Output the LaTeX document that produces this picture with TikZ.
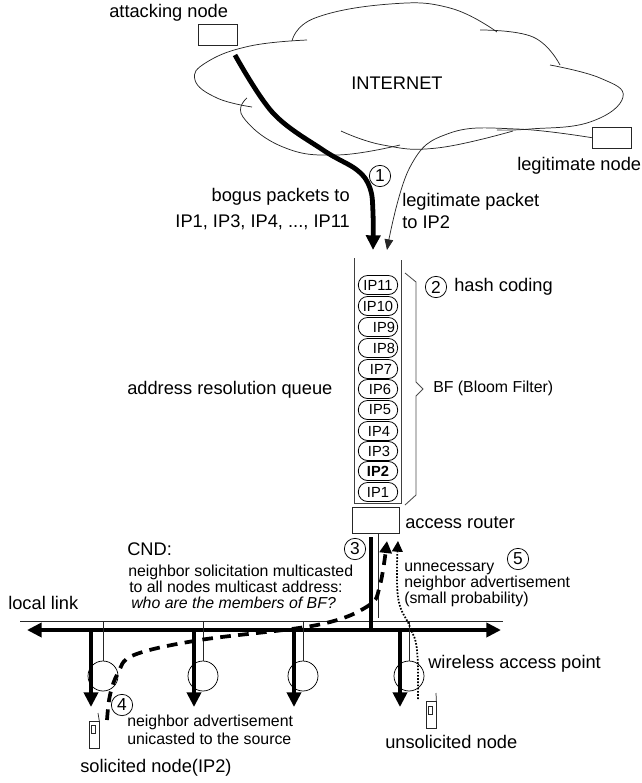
\documentclass[tikz,border=0pt]{standalone}
\usepackage{fontspec}
\setmainfont{Liberation Sans}
\usetikzlibrary{arrows.meta}
\tikzset{
 x=0.75pt,y=-0.75pt,
 thin line/.style={line width=0.55pt,black!85},
 box/.style={draw,line width=0.55pt,black!85,minimum width=29pt,minimum height=15.5pt,inner sep=0pt,anchor=north west},
 lab/.style={font=\fontsize{13.7}{15}\selectfont,inner sep=0pt,align=left,anchor=west},
 small/.style={font=\fontsize{11.9}{13}\selectfont,inner sep=0pt,align=left,anchor=west},
 num/.style={draw,circle,line width=0.55pt,minimum size=16pt,inner sep=0pt,font=\fontsize{13}{14}\selectfont},
 ipn/.style={draw,rounded corners=7pt,line width=0.6pt,minimum width=29.5pt,minimum height=14.3pt,inner sep=0pt,font=\fontsize{11}{12}\selectfont},
 hub/.style={draw,circle,line width=0.55pt,minimum size=22.5pt,inner sep=0pt},
 heavy/.style={line width=3.6pt,-{Triangle[length=11pt,width=10.5pt]}},
 heavydash/.style={line width=2.8pt,dash pattern=on 8pt off 5.5pt,-{Triangle[length=9pt,width=9pt]}},
 dots/.style={line width=1.3pt,dash pattern=on 1.2pt off 1.2pt,-{Triangle[length=8pt,width=8pt]}},
}
\begin{document}
\begin{tikzpicture}
\useasboundingbox (0,0) rectangle (642,783);
% cloud
\draw[thin line] plot[smooth,tension=0.75] coordinates {(307,40) (250,46) (207,62) (195,80) (217,98) (252,107)};
\draw[thin line] plot[smooth,tension=0.75] coordinates {(247,98) (243,117) (283,147) (337,155) (400,145)};
\draw[thin line] plot[smooth,tension=0.75] coordinates {(341,131) (383,145) (437,148) (513,131)};
\draw[thin line] plot[smooth,tension=0.75] coordinates {(550,65) (600,78) (623,97) (590,122) (530,129) (497,130)};
\draw[thin line] plot[smooth,tension=0.75] coordinates {(480,30) (533,37) (560,65)};
\draw[thin line] plot[smooth,tension=0.75] coordinates {(292,41) (315,18) (390,4) (450,8) (497,32)};
\node[lab] (inet) at (351,83) {INTERNET};
% end nodes
\node[box] (attack) at (198,24) {};
\node[box] (legit) at (592,127) {};
\node[lab] (attackl) at (109,13) {attacking node};
\node[lab] (legitl) at (517,166) {legitimate node};
% traffic
\coordinate (bogus) at (235,55);
\coordinate (qin) at (373,250);
\coordinate (qin2) at (387,250);
\draw[heavy] plot[smooth,tension=0.6] coordinates {(bogus) (273,113) (323,150) (357,170) (370,188) (373,213) (qin)};
\draw[thin line,-{Triangle[length=8pt,width=6.5pt]}] plot[smooth,tension=0.7] coordinates {(legit.west) (517,129) (450,133) (410,167) (qin2)};
\node[num] (n1) at (380,176) {1};
\node[lab,anchor=east] (bl) at (350,197) {bogus packets to};
\node[lab,anchor=east] (bl2) at (350,222) {IP1, IP3, IP4, ..., IP11};
\node[lab] (ll) at (402,202) {legitimate packet};
\node[lab] (ll2) at (402,222) {to IP2};
% queue
\coordinate (qtl) at (354,258);
\coordinate (qbl) at (354,503);
\coordinate (qtr) at (401,260);
\coordinate (qbr) at (401,503);
\draw[line width=0.7pt,black!75] (qtl) -- (qbl) -- (qbr) -- (qtr);
\foreach \t/\y/\dx in {IP11/285/0,IP10/306/0,IP9/327/9,IP8/348/9,IP7/369/4.5,IP6/389/3,IP5/410/3,IP4/431/1.5,IP3/451/1.5,IP1/492/0}
  \node[ipn] (q\t) at (378,\y) {\hspace{\dx pt}\t};
\node[ipn,font=\fontsize{11}{12}\selectfont\bfseries] (qIP2) at (378,471) {IP2};
\coordinate (ba) at (405,273);
\coordinate (bb) at (416,282);
\coordinate (bc) at (416,382);
\coordinate (bd) at (423,389);
\coordinate (be) at (416,396);
\coordinate (bf) at (416,495);
\coordinate (bg) at (405,505);
\draw[line width=0.65pt,black!70] (ba) -- (bb) -- (bc) -- (bd) -- (be) -- (bf) -- (bg);
\node[num] (n2) at (436,287) {2};
\node[lab] (hc) at (454,287) {hash coding};
\node[lab] (arq) at (127,390) {address resolution queue};
\node[small] (bfl) at (433,388) {BF (Bloom Filter)};
% router
\node[box,minimum width=35pt,minimum height=19.5pt] (router) at (352,507) {};
\node[lab] (rl) at (405,523) {access router};
\node[num] (n3) at (355,549) {3};
% link
\coordinate (ll1) at (20,621);
\coordinate (ll2) at (503,621);
\coordinate (th1) at (27,630);
\coordinate (th2) at (501,630);
\coordinate (tr) at (371,630);
\draw[thin line] (ll1) -- (ll2);
\draw[heavy] (tr) -- (th1);
\draw[heavy] (tr) -- (th2);
\draw[line width=3.6pt] (371,537) -- (tr);
\draw[thin line] (378,533) -- (378,618);
\foreach \nm/\cx/\ax in {a/103/91,b/203/194,c/303/294,d/409/400}{
  \node[hub] (hub\nm) at (\cx,676) {};
  \coordinate (top\nm) at (\cx,621);
  \coordinate (ar\nm) at (\ax,630);
  \coordinate (ae\nm) at (\ax,707);
  \draw[thin line] (top\nm) -- (hub\nm.north);
  \draw[heavy] (ar\nm) -- (ae\nm);
}
% CND
\node[lab] (cnd) at (127,549) {CND:};
\node[small] (c1) at (128,572) {neighbor solicitation multicasted};
\node[small] (c2) at (129,587) {to all nodes multicast address:};
\node[small,font=\fontsize{11.9}{13}\selectfont\itshape] (c3) at (131,603) {who are the members of BF?};
\node[lab] (local) at (8,603) {local link};
% replies
\draw[heavydash] plot[smooth,tension=0.6] coordinates {(107,720) (110,695) (118,673) (134,655) (200,640) (317,625) (368,606) (380,585) (387,541)};
\draw[dots] plot[smooth,tension=0.7] coordinates {(418,699) (417,650) (410,627) (398,597) (398,541)};
\node[small] (un1) at (404,569) {unnecessary};
\node[small] (un2) at (404,583) {neighbor advertisement};
\node[small] (un3) at (404,599) {(small probability)};
\node[num] (n5) at (518,559) {5};
\node[lab] (wl) at (428,664) {wireless access point};
% phones
\node[draw,thin line,minimum width=7.5pt,minimum height=20pt,inner sep=0pt] (ph1) at (94,735) {};
\node[draw,thin line,minimum width=3pt,minimum height=6pt,inner sep=0pt] (ph1s) at (93,729) {};
\coordinate (ph1a) at (98,713);
\draw[thin line] (ph1a) -- (ph1.north east);
\node[draw,thin line,minimum width=7.5pt,minimum height=20pt,inner sep=0pt] (ph2) at (431,715) {};
\node[draw,thin line,minimum width=3pt,minimum height=6pt,inner sep=0pt] (ph2s) at (430.5,710) {};
\coordinate (ph2a) at (436,693);
\draw[thin line] (ph2a) -- (ph2.north east);
\node[num] (n4) at (122,705) {4};
\node[small] (na1) at (127,722) {neighbor advertisement};
\node[small] (na2) at (127,739) {unicasted to the source};
\node[lab] (sn) at (80,768) {solicited node(IP2)};
\node[lab] (uns) at (385,742) {unsolicited node};
\end{tikzpicture}
\end{document}
